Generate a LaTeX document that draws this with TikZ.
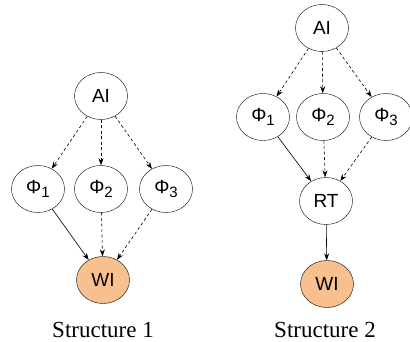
\documentclass[tikz,border=0pt]{standalone}
\usepackage{fontspec}
\setmainfont{Liberation Serif}
\newfontfamily\nodefont{Liberation Sans}
\usetikzlibrary{shapes.geometric, arrows.meta}

\definecolor{wiorange}{RGB}{247,192,142}

\newcommand{\phisub}[1]{Φ\raisebox{-0.35ex}{\fontsize{15}{15}\selectfont #1}}

\tikzset{
    var/.style={ellipse, draw, fill=white, minimum width=53pt, minimum height=47pt, inner sep=0pt, font=\nodefont\fontsize{19}{19}\selectfont},
    target/.style={var, fill=wiorange},
    solid edge/.style={-{Stealth[length=7pt, width=5pt]}, semithick},
    dash edge/.style={solid edge, dash pattern=on 3pt off 2.5pt},
    caption/.style={font=\fontsize{23}{23}\selectfont}
}

\begin{document}
\begin{tikzpicture}[x=1pt, y=-1pt]
        \useasboundingbox (0, 0) rectangle (410, 342);

        % Structure 1
        \node[var] (a1) at (101, 96) {AI};
        \node[var] (p11) at (38, 189) {\phisub{1}};
        \node[var] (p12) at (101, 189) {\phisub{2}};
        \node[var] (p13) at (166, 189) {\phisub{3}};
        \node[target] (w1) at (103, 280) {WI};
        \node[caption] (s1) at (103, 330) {Structure 1};

        \draw[dash edge] (a1) -- (p11);
        \draw[dash edge] (a1) -- (p12);
        \draw[dash edge] (a1) -- (p13);
        \draw[solid edge] (p11) -- (w1);
        \draw[dash edge] (p12) -- (w1);
        \draw[dash edge] (p13) -- (w1);

        % Structure 2
        \node[var] (a2) at (322, 28) {AI};
        \node[var] (p21) at (263, 117) {\phisub{1}};
        \node[var] (p22) at (323, 117) {\phisub{2}};
        \node[var] (p23) at (386, 117) {\phisub{3}};
        \node[var] (r2) at (326, 201) {RT};
        \node[target] (w2) at (327, 284) {WI};
        \node[caption] (s2) at (325, 330) {Structure 2};

        \draw[dash edge] (a2) -- (p21);
        \draw[dash edge] (a2) -- (p22);
        \draw[dash edge] (a2) -- (p23);
        \draw[solid edge] (p21) -- (r2);
        \draw[dash edge] (p22) -- (r2);
        \draw[dash edge] (p23) -- (r2);
        \draw[solid edge] (r2) -- (w2);
    \end{tikzpicture}
\end{document}
